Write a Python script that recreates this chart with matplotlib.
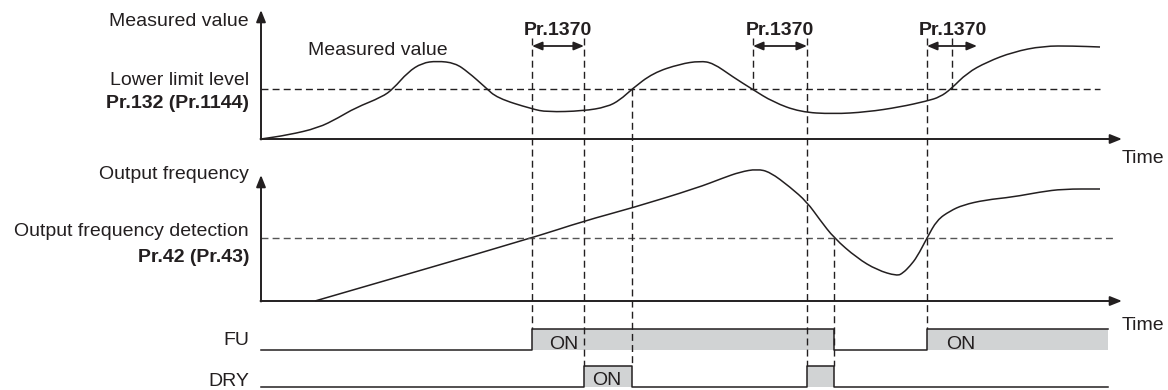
import matplotlib
matplotlib.use("Agg")
import matplotlib.pyplot as plt
from matplotlib.path import Path
from matplotlib.patches import PathPatch

plt.rcParams['font.family'] = ['Liberation Sans', 'DejaVu Sans']

# measured value curve (time, value)
meas_t = [0, 2.7, 5.7, 7.7, 9.4, 12.1, 13.2, 14.7, 16.1, 17.6, 19.4, 20.7, 22.4, 23.6,
          27.1, 28.6, 32.2, 34.6, 35.9, 37.1, 39.2, 41.9, 43.9, 45.2, 47.2, 49.1, 51.2,
          53.9, 57.2, 60.6, 63.9, 66.6, 67.9, 69.0, 70.6, 72.6, 75.2, 78.2, 81.2, 83.9]
meas_v = [0, 0.4, 1.1, 2.1, 3.1, 4.2, 5.0, 6.7, 7.6, 7.8, 7.6, 6.7, 5.2, 4.1,
          3.0, 2.7, 2.8, 3.2, 3.9, 5.0, 6.6, 7.5, 7.8, 7.6, 6.2, 5.0, 3.7,
          2.7, 2.5, 2.7, 3.2, 3.8, 4.2, 5.0, 6.6, 7.7, 8.7, 9.3, 9.3, 9.2]
lower_limit = 5.0

# output frequency curve
freq_t = [5.4, 27.1, 32.3, 37.1, 43.6, 46.2, 47.9, 49.6, 50.9, 52.9, 54.6, 55.9, 57.3,
          59.6, 61.6, 63.6, 64.2, 64.9, 65.6, 66.6, 67.6, 68.9, 70.2, 72.4, 75.2, 77.9,
          80.2, 83.9]
freq_v = [0, 6.3, 8.0, 9.3, 11.3, 12.3, 12.9, 13.2, 12.9, 11.4, 9.9, 8.1, 6.3,
          4.3, 3.1, 2.5, 2.8, 3.5, 4.4, 6.3, 8.1, 9.0, 9.6, 10.1, 10.4, 10.9,
          11.2, 11.2]
freq_detect = 6.3

# signals: (on, off) intervals
fu_on = [(27.1, 57.3), (66.6, 84.7)]
dry_on = [(32.3, 37.1), (54.6, 57.3)]
t_end = 84.7

# Pr.1370 delay windows
delay_windows = [(27.1, 32.3), (49.2, 54.6), (66.6, 71.6)]

# layout
top_base = 0.0
freq_base = -16.2
fu_base = -21.1
dry_base = -24.8
sig_h = 2.1
axis_end = 86.1
ink = '#231f20'
fs = 14

fig = plt.figure(figsize=(11.68, 3.90), dpi=100)
ax = fig.add_axes([0, 0, 1, 1])
ax.set_xlim(-26.1, 90.7)
ax.set_ylim(-25.1, 13.9)
ax.axis('off')


def smooth_curve(ts, vs, base):
    # quadratic bezier through midpoints, the read points act as control points
    pts = [(t, base + v) for t, v in zip(ts, vs)]
    verts = [pts[0]]
    codes = [Path.MOVETO]
    mid = lambda p, q: ((p[0] + q[0]) / 2, (p[1] + q[1]) / 2)
    verts.append(mid(pts[0], pts[1]))
    codes.append(Path.LINETO)
    for i in range(1, len(pts) - 1):
        verts += [pts[i], mid(pts[i], pts[i + 1])]
        codes += [Path.CURVE3, Path.CURVE3]
    verts.append(pts[-1])
    codes.append(Path.LINETO)
    ax.add_patch(PathPatch(Path(verts, codes), fill=False, edgecolor=ink, lw=1.1))


def axis_arrows(base, height):
    ax.annotate('', xy=(0, base + height), xytext=(0, base - 0.05),
                arrowprops=dict(arrowstyle='-|>,head_length=0.7,head_width=0.28',
                                color=ink, lw=1.4, shrinkA=0, shrinkB=0))
    ax.annotate('', xy=(axis_end, base), xytext=(-0.05, base),
                arrowprops=dict(arrowstyle='-|>,head_length=0.7,head_width=0.28',
                                color=ink, lw=1.4, shrinkA=0, shrinkB=0))

axis_arrows(top_base, 12.9)
axis_arrows(freq_base, 12.6)

# level lines
ax.plot([0, 83.9], [top_base + lower_limit] * 2, color=ink, lw=1.0, dashes=(5, 3))
ax.plot([0, 85.2], [freq_base + freq_detect] * 2, color='#555555', lw=1.0, dashes=(5, 3))

# curves
smooth_curve(meas_t, meas_v, top_base)
smooth_curve(freq_t, freq_v, freq_base)


def signal(base, intervals):
    xs = [0]
    ys = [base]
    for a, b in intervals:
        xs += [a, a]
        ys += [base, base + sig_h]
        ax.fill_between([a, min(b, t_end)], base, base + sig_h, color='#d1d3d4', lw=0)
        if b < t_end:
            xs += [b, b]
            ys += [base + sig_h, base]
        else:
            xs += [t_end]
            ys += [base + sig_h]
    if xs[-1] < t_end:
        xs.append(t_end)
        ys.append(base)
    ax.plot(xs, ys, color=ink, lw=1.1)

signal(fu_base, fu_on)
signal(dry_base, dry_on)

# vertical dashed event lines
top_dash = 10.1
fu_top = fu_base + sig_h
dry_top = dry_base + sig_h
events = [
    (27.1, top_dash, fu_top),
    (32.3, top_dash, dry_top),
    (37.1, top_base + lower_limit, dry_top),
    (49.2, top_dash, top_base + lower_limit),
    (54.6, top_dash, dry_top),
    (57.3, freq_base + freq_detect, dry_top),
    (66.6, top_dash, fu_top),
    (69.1, top_dash, top_base + lower_limit),
]
for t, y0, y1 in events:
    ax.plot([t, t], [y0, y1], color=ink, lw=1.0, dashes=(5, 3))

# Pr.1370 arrows
for a, b in delay_windows:
    ax.annotate('', xy=(b, 9.3), xytext=(a, 9.3),
                arrowprops=dict(arrowstyle='<|-|>,head_length=0.6,head_width=0.25',
                                color=ink, lw=1.3, shrinkA=0, shrinkB=0))
for x in [29.7, 51.9, 69.2]:
    ax.text(x, 10.4, 'Pr.1370', fontsize=fs, fontweight='bold', ha='center',
            va='baseline', color=ink)

# left labels
lx = -1.2
ax.text(lx, 11.3, 'Measured value', fontsize=fs, ha='right', va='baseline', color=ink)
ax.text(lx, 5.4, 'Lower limit level', fontsize=fs, ha='right', va='baseline', color=ink)
ax.text(lx, 3.1, 'Pr.132 (Pr.1144)', fontsize=fs, fontweight='bold', ha='right',
        va='baseline', color=ink)
ax.text(lx, -4.0, 'Output frequency', fontsize=fs, ha='right', va='baseline', color=ink)
ax.text(lx, -9.7, 'Output frequency detection', fontsize=fs, ha='right', va='baseline',
        color=ink)
ax.text(lx, -12.3, 'Pr.42 (Pr.43)', fontsize=fs, fontweight='bold', ha='right',
        va='baseline', color=ink)
ax.text(lx, -20.6, 'FU', fontsize=fs, ha='right', va='baseline', color=ink)
ax.text(lx, -24.7, 'DRY', fontsize=fs, ha='right', va='baseline', color=ink)

ax.text(11.7, 8.4, 'Measured value', fontsize=fs, ha='center', va='baseline', color=ink)
ax.text(86.1, -2.4, 'Time', fontsize=fs, ha='left', va='baseline', color=ink)
ax.text(86.1, -19.1, 'Time', fontsize=fs, ha='left', va='baseline', color=ink)

ax.text(30.3, -21.0, 'ON', fontsize=fs, ha='center', va='baseline', color=ink)
ax.text(70.0, -21.0, 'ON', fontsize=fs, ha='center', va='baseline', color=ink)
ax.text(34.6, -24.6, 'ON', fontsize=fs, ha='center', va='baseline', color=ink)

fig.savefig('out.png', dpi=100)
